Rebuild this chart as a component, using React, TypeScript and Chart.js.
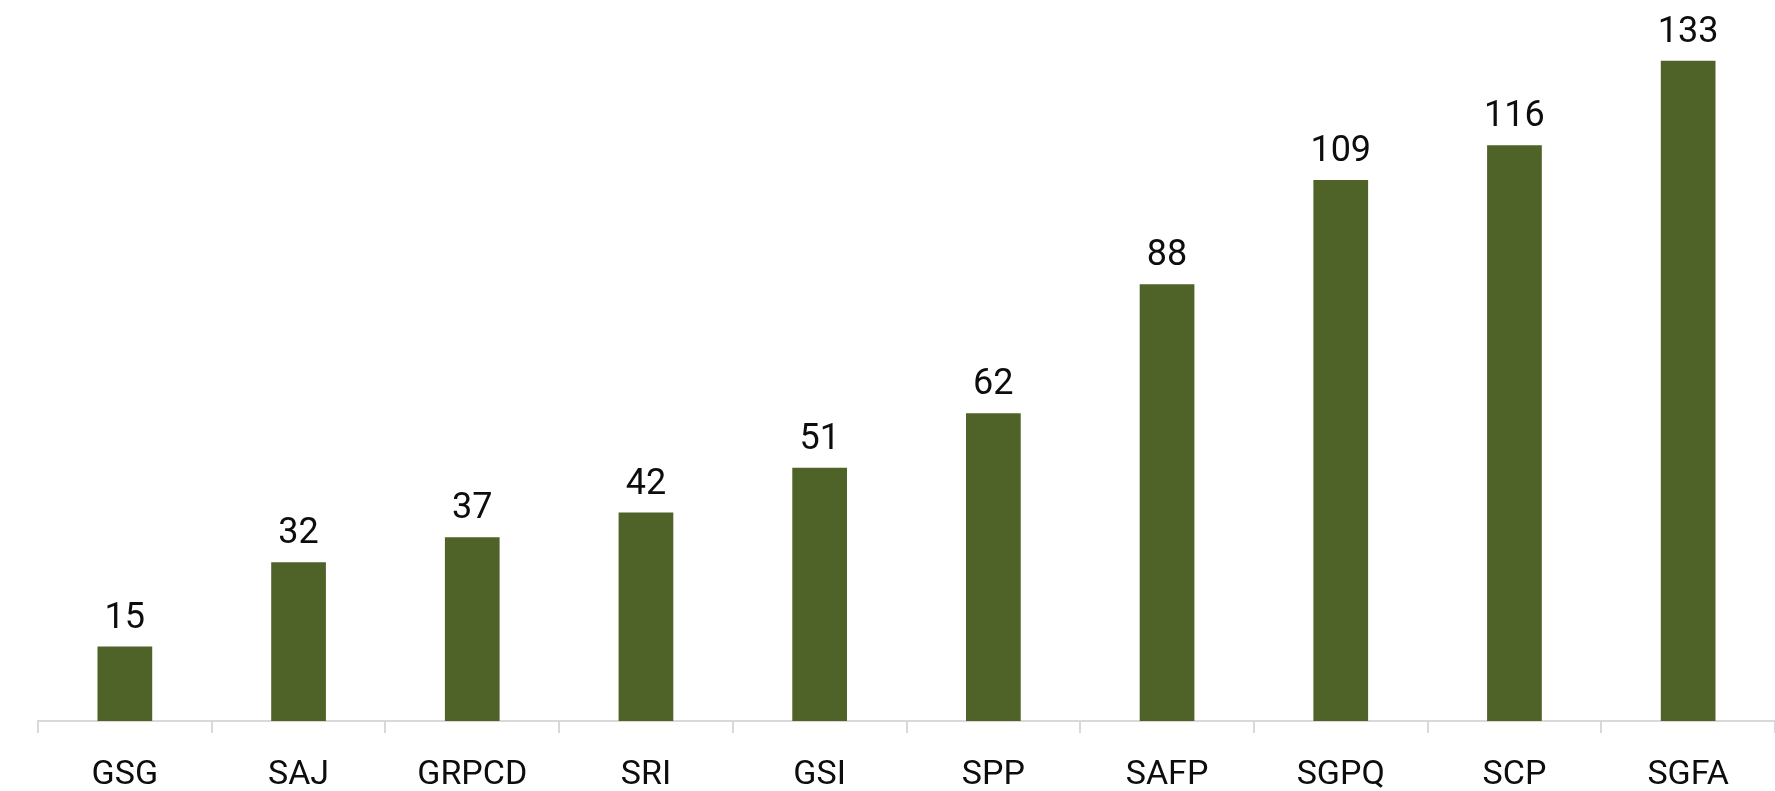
import React, { useEffect, useRef } from "react";
import { Chart, registerables } from "chart.js";

Chart.register(...registerables);

const categories = ["GSG", "SAJ", "GRPCD", "SRI", "GSI", "SPP", "SAFP", "SGPQ", "SCP", "SGFA"];
const values = [15, 32, 37, 42, 51, 62, 88, 109, 116, 133];

const FONT = "Roboto, 'Noto Sans', sans-serif";

const valueLabels = {
  id: "valueLabels",
  afterDatasetsDraw(chart: any) {
    const ctx = chart.ctx;
    const meta = chart.getDatasetMeta(0);
    ctx.save();
    ctx.font = `36px ${FONT}`;
    ctx.fillStyle = "#0d0d0d";
    ctx.textAlign = "center";
    ctx.textBaseline = "alphabetic";
    meta.data.forEach((bar: any, i: number) => {
      ctx.fillText(String(chart.data.datasets[0].data[i]), bar.x, bar.y - 19);
    });
    ctx.restore();
  },
};

export default function App() {
  const ref = useRef<HTMLCanvasElement>(null);
  useEffect(() => {
    if (!ref.current) return;
    const chart = new Chart(ref.current, {
      type: "bar",
      data: {
        labels: categories,
        datasets: [
          {
            data: values,
            backgroundColor: "#4F6228",
            barPercentage: 0.63,
            categoryPercentage: 0.5,
          },
        ],
      },
      options: {
        animation: false,
        responsive: false,
        maintainAspectRatio: false,
        layout: { padding: { left: 38, right: 0, top: 26, bottom: 0 } },
        plugins: { legend: { display: false }, tooltip: { enabled: false } },
        scales: {
          y: { display: false, min: 0, max: 140 },
          x: {
            afterFit(scale: any) {
              scale.height = 70;
            },
            border: { display: true, color: "#d9d9d9", width: 2 },
            grid: {
              display: true,
              offset: true,
              drawOnChartArea: false,
              drawTicks: true,
              tickLength: 12,
              color: "#d9d9d9",
              lineWidth: 2,
            },
            ticks: {
              color: "#0d0d0d",
              font: { family: FONT, size: 34 },
              padding: 22,
              maxRotation: 0,
              autoSkip: false,
            },
          },
        },
      },
      plugins: [valueLabels],
    });
    return () => chart.destroy();
  }, []);
  return (
    <div style={{ position: "fixed", left: 0, top: 0, width: 1775, height: 791, background: "#fff" }}>
      <canvas ref={ref} width={1775} height={791} />
    </div>
  );
}
